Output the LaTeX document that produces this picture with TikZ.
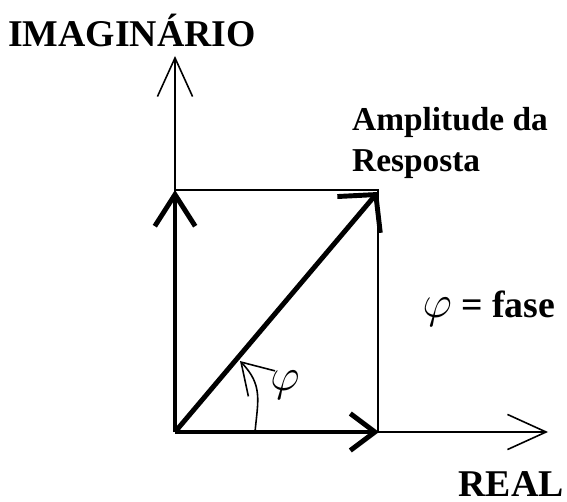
\RequirePackage{fix-cm}
\documentclass[tikz,border=0pt]{standalone}
\usepackage{fontspec}
\setmainfont{Liberation Serif}
\usetikzlibrary{arrows.meta}

\begin{document}
\begin{tikzpicture}[
  x=0.02cm,y=-0.02cm,
  axis/.style={line width=0.9pt,-{Straight Barb[length=22pt,width=20pt]}},
  vec/.style={line width=2.8pt},
  box/.style={line width=0.9pt},
  lbl/.style={font=\fontsize{19}{23}\selectfont\bfseries},
  big/.style={font=\fontsize{21.5}{25}\selectfont\bfseries}
]
\useasboundingbox (0,0) rectangle (567,502);
% origin, axis ends and vector tips
\coordinate (O) at (175,432);
\coordinate (Ytop) at (175,56);
\coordinate (Xend) at (548,432);
\coordinate (Im) at (175,190);
\coordinate (Re) at (379,432);
\coordinate (A) at (378,192);
% axes
\draw[axis] (O) -- (Ytop);
\draw[axis] (O) -- (Xend);
% projection lines
\draw[box] (Im) -- (Im -| A) -- (A |- Re);
% components and resultant
\draw[vec,-{Straight Barb[length=18pt,width=23pt]}] (O) -- (Im);
\draw[vec,-{Straight Barb[length=14pt,width=21pt]}] (O) -- (Re);
\draw[vec,-{Straight Barb[length=15pt,width=32pt]}] (O) -- (A);
% phase angle
\coordinate (a0) at (255,432);
\coordinate (a1) at (240,361);
\draw[box,-{Straight Barb[length=17pt,width=21pt]}] (a0) .. controls (258,400) and (263,385) .. (a1);
\node[font=\fontsize{26}{30}\selectfont] (phi) at (285,385) {$\varphi$};
% labels
\node[big] (imag) at (132,30) {IMAGINÁRIO};
\node[lbl,anchor=west,align=left] (amp) at (346,143) {Amplitude da\\Resposta};
\node[big] (fase) at (489,309) {{\fontsize{26}{30}\selectfont$\varphi$} = fase};
\node[big] (real) at (511,484) {REAL};
\end{tikzpicture}
\end{document}
